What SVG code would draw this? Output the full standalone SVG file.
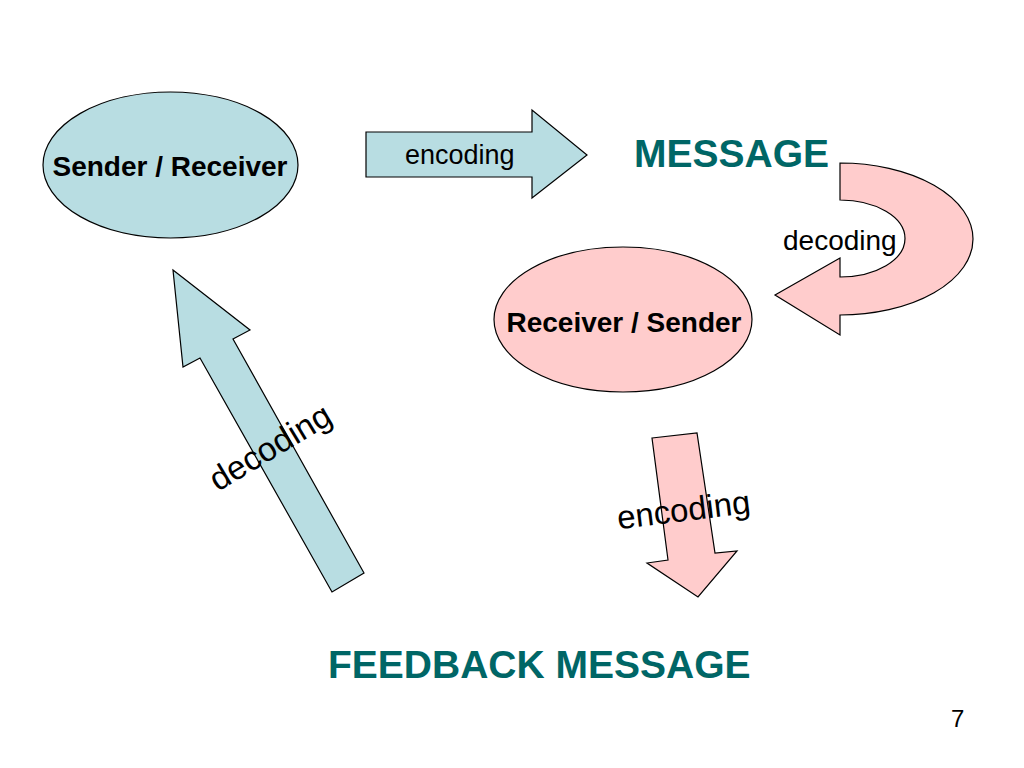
<svg xmlns="http://www.w3.org/2000/svg" width="1024" height="768" viewBox="0 0 1024 768">
<style>
.blue{fill:#b8dde2;stroke:#000;stroke-width:1.2}
.pink{fill:#ffcccc;stroke:#000;stroke-width:1.2}
.lbl{font-family:"Liberation Sans",Arial,sans-serif;fill:#000}
.node{font-family:"Liberation Sans",Arial,sans-serif;font-weight:bold;font-size:28px;fill:#000}
.title{font-family:"Liberation Sans",Arial,sans-serif;font-weight:bold;font-size:39px;fill:#006666}
</style>
<rect width="1024" height="768" fill="#fff"/>
<g id="connectors">
<g id="arrow-encoding-top">
<path class="blue" d="M366,132 L532,132 L532,110 L587,155 L532,198 L532,177 L366,177 Z"/>
<text class="lbl" x="405" y="164" font-size="27">encoding</text>
</g>
<g id="arrow-decoding-curved">
<path class="pink" d="M840,163 A133,76 0 0 1 840,315 L840,335 L775,295 L840,258 L840,277 A65,38.5 0 0 0 840,200 Z"/>
<text class="lbl" x="783" y="250" font-size="28">decoding</text>
</g>
<g id="arrow-encoding-down">
<path class="pink" d="M652,438 L697,433 L715,553 L737,551 L698,597 L647,563 L668,560 Z"/>
<text class="lbl" transform="translate(685,521) rotate(-7)" text-anchor="middle" font-size="33">encoding</text>
</g>
<g id="arrow-decoding-up">
<path class="blue" d="M173,270 L250,330 L233,339 L364,573 L332,592 L200,358 L183,367 Z"/>
<text class="lbl" transform="translate(276,457) rotate(-31)" text-anchor="middle" font-size="33.5">decoding</text>
</g>
</g>
<g id="sender-receiver">
<ellipse class="blue" cx="170.5" cy="165" rx="127.5" ry="73"/>
<text class="node" x="170" y="176" text-anchor="middle">Sender / Receiver</text>
</g>
<g id="receiver-sender">
<ellipse class="pink" cx="623" cy="319.5" rx="129" ry="72.5"/>
<text class="node" x="624" y="332" text-anchor="middle">Receiver / Sender</text>
</g>
<g id="message">
<text class="title" x="634" y="167">MESSAGE</text>
</g>
<g id="feedback-message">
<text class="title" x="328" y="678">FEEDBACK MESSAGE</text>
</g>
<text class="lbl" x="951" y="727" font-size="24">7</text>
</svg>
